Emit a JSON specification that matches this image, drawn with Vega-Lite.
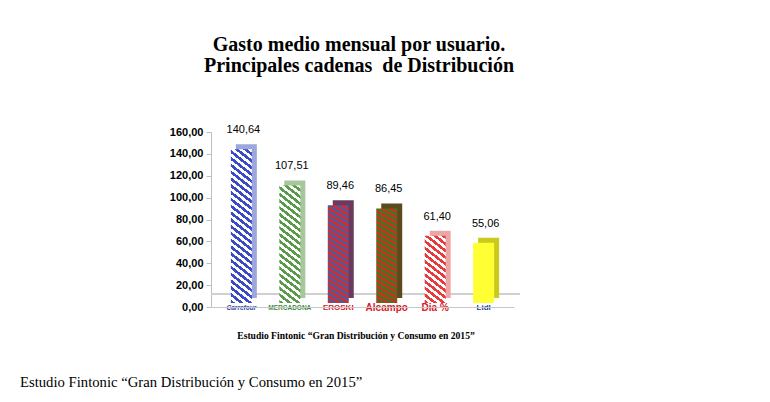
{
  "$schema": "https://vega.github.io/schema/vega-lite/v6.json",
  "autosize": {"type": "pad"},
  "padding": {"left": 20, "top": 35, "right": 5, "bottom": 5},
  "background": "white",
  "config": {
    "view": {"stroke": null},
    "locale": {"number": {"decimal": ",", "thousands": ".", "grouping": [3], "currency": ["", " €"]}},
    "axisY": {
      "title": null, "values": [0, 20, 40, 60, 80, 100, 120, 140, 160], "format": ".2f", "grid": false,
      "domainColor": "#bfbfbf", "tickColor": "#bfbfbf", "tickSize": 5,
      "labelFont": "Liberation Sans", "labelFontSize": 11, "labelFontWeight": "bold",
      "labelColor": "#000000", "labelPadding": 3
    }
  },
  "title": {
    "text": "Estudio Fintonic “Gran Distribución y Consumo en 2015”",
    "orient": "bottom", "anchor": "start", "frame": "group", "dx": -191, "offset": 35,
    "font": "Liberation Serif", "fontSize": 14.7, "fontWeight": "normal", "color": "#000000"
  },
  "vconcat": [
    {
      "width": 303,
      "height": 175,
      "title": {
        "text": ["Gasto medio mensual por usuario.", "Principales cadenas\u00a0 de Distribución"],
        "font": "Liberation Serif", "fontSize": 20, "fontWeight": "bold", "lineHeight": 21,
        "anchor": "middle", "frame": "group", "dx": -3.5, "offset": 48, "color": "#000000"
      },
      "data": {
        "values": [
          {"cadena": "Carrefour", "gasto": 140.64},
          {"cadena": "Mercadona", "gasto": 107.51},
          {"cadena": "Eroski", "gasto": 89.46},
          {"cadena": "Alcampo", "gasto": 86.45},
          {"cadena": "Dia", "gasto": 61.40},
          {"cadena": "Lidl", "gasto": 55.06}
        ]
      },
      "layer": [
        {
          "mark": {"type": "rule", "color": "#cfcfcf", "strokeWidth": 1.2, "xOffset": 6, "yOffset": -13},
          "encoding": {"y": {"datum": 0, "type": "quantitative", "scale": {"domain": [0, 160], "nice": false}, "axis": {"title": null, "values": [0, 20, 40, 60, 80, 100, 120, 140, 160], "format": ".2f"}}}
        },
        {
          "encoding": {
            "x": {
              "field": "cadena", "type": "nominal", "sort": null,
              "scale": {"paddingInner": 0.567, "paddingOuter": 0.41},
              "axis": {
                "title": "Estudio Fintonic “Gran Distribución y Consumo en 2015”",
                "titleFont": "Liberation Serif", "titleFontSize": 9.6, "titleFontWeight": "bold", "titleColor": "#000000",
                "titleX": 144.5, "titleY": 31, "titleAlign": "center", "titleBaseline": "alphabetic",
                "ticks": false, "domainColor": "#c8c8c8", "domainWidth": 1.2, "labelAngle": 0, "labelPadding": 0,
                "labelBaseline": "middle", "labelFont": "Liberation Sans", "labelFontWeight": "bold",
                "labelOverlap": false,
                "labelExpr": "datum.value === 'Mercadona' ? 'MERCADONA' : datum.value === 'Eroski' ? 'EROSKI' : datum.value === 'Dia' ? 'Dia %' : datum.value",
                "labelColor": {
                  "condition": [
                    {"test": "datum.value === 'Carrefour'", "value": "#2b3f9e"},
                    {"test": "datum.value === 'Mercadona'", "value": "#3f8a3a"},
                    {"test": "datum.value === 'Lidl'", "value": "#1f3f97"}
                  ],
                  "value": "#d42027"
                },
                "labelFontSize": {
                  "condition": [
                    {"test": "datum.value === 'Carrefour'", "value": 6.5},
                    {"test": "datum.value === 'Mercadona'", "value": 6.5},
                    {"test": "datum.value === 'Eroski'", "value": 8},
                    {"test": "datum.value === 'Lidl'", "value": 8}
                  ],
                  "value": 10
                },
                "labelFontStyle": {"condition": {"test": "datum.value === 'Carrefour'", "value": "italic"}, "value": "normal"}
              }
            },
            "y": {
              "field": "gasto", "type": "quantitative",
              "scale": {"domain": [0, 160], "nice": false},
              "axis": {"title": null, "values": [0, 20, 40, 60, 80, 100, 120, 140, 160], "format": ".2f"}
            }
          },
          "layer": [
            {
              "mark": {"type": "bar", "xOffset": 5, "yOffset": -9},
              "encoding": {
                "fill": {
                  "condition": [
                    {"test": "datum.cadena === 'Carrefour'", "value": "#9ea7dd"},
                    {"test": "datum.cadena === 'Mercadona'", "value": "#a6c69b"},
                    {"test": "datum.cadena === 'Eroski'", "value": "#6c3a5e"},
                    {"test": "datum.cadena === 'Alcampo'", "value": "#5a4a1c"},
                    {"test": "datum.cadena === 'Dia'", "value": "#eba6a6"}
                  ],
                  "value": "#c9c91e"
                }
              }
            },
            {
              "mark": {"type": "bar", "yOffset": -4},
              "encoding": {
                "fill": {
                  "condition": [
                    {"test": "datum.cadena === 'Carrefour'", "value": {"gradient": "linear", "x1": 0, "y1": 1, "x2": 0.117, "y2": -0.094, "stops": [
                      {"offset": 0, "color": "#3b4bc8"}, {"offset": 0.02, "color": "#3b4bc8"}, {"offset": 0.02, "color": "#ffffff"}, {"offset": 0.04, "color": "#ffffff"},
                      {"offset": 0.04, "color": "#3b4bc8"}, {"offset": 0.06, "color": "#3b4bc8"}, {"offset": 0.06, "color": "#ffffff"}, {"offset": 0.08, "color": "#ffffff"},
                      {"offset": 0.08, "color": "#3b4bc8"}, {"offset": 0.10, "color": "#3b4bc8"}, {"offset": 0.10, "color": "#ffffff"}, {"offset": 0.12, "color": "#ffffff"},
                      {"offset": 0.12, "color": "#3b4bc8"}, {"offset": 0.14, "color": "#3b4bc8"}, {"offset": 0.14, "color": "#ffffff"}, {"offset": 0.16, "color": "#ffffff"},
                      {"offset": 0.16, "color": "#3b4bc8"}, {"offset": 0.18, "color": "#3b4bc8"}, {"offset": 0.18, "color": "#ffffff"}, {"offset": 0.20, "color": "#ffffff"},
                      {"offset": 0.20, "color": "#3b4bc8"}, {"offset": 0.22, "color": "#3b4bc8"}, {"offset": 0.22, "color": "#ffffff"}, {"offset": 0.24, "color": "#ffffff"},
                      {"offset": 0.24, "color": "#3b4bc8"}, {"offset": 0.26, "color": "#3b4bc8"}, {"offset": 0.26, "color": "#ffffff"}, {"offset": 0.28, "color": "#ffffff"},
                      {"offset": 0.28, "color": "#3b4bc8"}, {"offset": 0.30, "color": "#3b4bc8"}, {"offset": 0.30, "color": "#ffffff"}, {"offset": 0.32, "color": "#ffffff"},
                      {"offset": 0.32, "color": "#3b4bc8"}, {"offset": 0.34, "color": "#3b4bc8"}, {"offset": 0.34, "color": "#ffffff"}, {"offset": 0.36, "color": "#ffffff"},
                      {"offset": 0.36, "color": "#3b4bc8"}, {"offset": 0.38, "color": "#3b4bc8"}, {"offset": 0.38, "color": "#ffffff"}, {"offset": 0.40, "color": "#ffffff"},
                      {"offset": 0.40, "color": "#3b4bc8"}, {"offset": 0.42, "color": "#3b4bc8"}, {"offset": 0.42, "color": "#ffffff"}, {"offset": 0.44, "color": "#ffffff"},
                      {"offset": 0.44, "color": "#3b4bc8"}, {"offset": 0.46, "color": "#3b4bc8"}, {"offset": 0.46, "color": "#ffffff"}, {"offset": 0.48, "color": "#ffffff"},
                      {"offset": 0.48, "color": "#3b4bc8"}, {"offset": 0.50, "color": "#3b4bc8"}, {"offset": 0.50, "color": "#ffffff"}, {"offset": 0.52, "color": "#ffffff"},
                      {"offset": 0.52, "color": "#3b4bc8"}, {"offset": 0.54, "color": "#3b4bc8"}, {"offset": 0.54, "color": "#ffffff"}, {"offset": 0.56, "color": "#ffffff"},
                      {"offset": 0.56, "color": "#3b4bc8"}, {"offset": 0.58, "color": "#3b4bc8"}, {"offset": 0.58, "color": "#ffffff"}, {"offset": 0.60, "color": "#ffffff"},
                      {"offset": 0.60, "color": "#3b4bc8"}, {"offset": 0.62, "color": "#3b4bc8"}, {"offset": 0.62, "color": "#ffffff"}, {"offset": 0.64, "color": "#ffffff"},
                      {"offset": 0.64, "color": "#3b4bc8"}, {"offset": 0.66, "color": "#3b4bc8"}, {"offset": 0.66, "color": "#ffffff"}, {"offset": 0.68, "color": "#ffffff"},
                      {"offset": 0.68, "color": "#3b4bc8"}, {"offset": 0.70, "color": "#3b4bc8"}, {"offset": 0.70, "color": "#ffffff"}, {"offset": 0.72, "color": "#ffffff"},
                      {"offset": 0.72, "color": "#3b4bc8"}, {"offset": 0.74, "color": "#3b4bc8"}, {"offset": 0.74, "color": "#ffffff"}, {"offset": 0.76, "color": "#ffffff"},
                      {"offset": 0.76, "color": "#3b4bc8"}, {"offset": 0.78, "color": "#3b4bc8"}, {"offset": 0.78, "color": "#ffffff"}, {"offset": 0.80, "color": "#ffffff"},
                      {"offset": 0.80, "color": "#3b4bc8"}, {"offset": 0.82, "color": "#3b4bc8"}, {"offset": 0.82, "color": "#ffffff"}, {"offset": 0.84, "color": "#ffffff"},
                      {"offset": 0.84, "color": "#3b4bc8"}, {"offset": 0.86, "color": "#3b4bc8"}, {"offset": 0.86, "color": "#ffffff"}, {"offset": 0.88, "color": "#ffffff"},
                      {"offset": 0.88, "color": "#3b4bc8"}, {"offset": 0.90, "color": "#3b4bc8"}, {"offset": 0.90, "color": "#ffffff"}, {"offset": 0.92, "color": "#ffffff"},
                      {"offset": 0.92, "color": "#3b4bc8"}, {"offset": 0.94, "color": "#3b4bc8"}, {"offset": 0.94, "color": "#ffffff"}, {"offset": 0.96, "color": "#ffffff"},
                      {"offset": 0.96, "color": "#3b4bc8"}, {"offset": 0.98, "color": "#3b4bc8"}, {"offset": 0.98, "color": "#ffffff"}, {"offset": 1, "color": "#ffffff"}
                    ]}},
                    {"test": "datum.cadena === 'Mercadona'", "value": {"gradient": "linear", "x1": 0, "y1": 1, "x2": 0.156, "y2": -0.118, "stops": [
                      {"offset": 0, "color": "#5a9a4a"}, {"offset": 0.025, "color": "#5a9a4a"}, {"offset": 0.025, "color": "#ffffff"}, {"offset": 0.05, "color": "#ffffff"},
                      {"offset": 0.05, "color": "#5a9a4a"}, {"offset": 0.075, "color": "#5a9a4a"}, {"offset": 0.075, "color": "#ffffff"}, {"offset": 0.1, "color": "#ffffff"},
                      {"offset": 0.1, "color": "#5a9a4a"}, {"offset": 0.125, "color": "#5a9a4a"}, {"offset": 0.125, "color": "#ffffff"}, {"offset": 0.15, "color": "#ffffff"},
                      {"offset": 0.15, "color": "#5a9a4a"}, {"offset": 0.175, "color": "#5a9a4a"}, {"offset": 0.175, "color": "#ffffff"}, {"offset": 0.2, "color": "#ffffff"},
                      {"offset": 0.2, "color": "#5a9a4a"}, {"offset": 0.225, "color": "#5a9a4a"}, {"offset": 0.225, "color": "#ffffff"}, {"offset": 0.25, "color": "#ffffff"},
                      {"offset": 0.25, "color": "#5a9a4a"}, {"offset": 0.275, "color": "#5a9a4a"}, {"offset": 0.275, "color": "#ffffff"}, {"offset": 0.3, "color": "#ffffff"},
                      {"offset": 0.3, "color": "#5a9a4a"}, {"offset": 0.325, "color": "#5a9a4a"}, {"offset": 0.325, "color": "#ffffff"}, {"offset": 0.35, "color": "#ffffff"},
                      {"offset": 0.35, "color": "#5a9a4a"}, {"offset": 0.375, "color": "#5a9a4a"}, {"offset": 0.375, "color": "#ffffff"}, {"offset": 0.4, "color": "#ffffff"},
                      {"offset": 0.4, "color": "#5a9a4a"}, {"offset": 0.425, "color": "#5a9a4a"}, {"offset": 0.425, "color": "#ffffff"}, {"offset": 0.45, "color": "#ffffff"},
                      {"offset": 0.45, "color": "#5a9a4a"}, {"offset": 0.475, "color": "#5a9a4a"}, {"offset": 0.475, "color": "#ffffff"}, {"offset": 0.5, "color": "#ffffff"},
                      {"offset": 0.5, "color": "#5a9a4a"}, {"offset": 0.525, "color": "#5a9a4a"}, {"offset": 0.525, "color": "#ffffff"}, {"offset": 0.55, "color": "#ffffff"},
                      {"offset": 0.55, "color": "#5a9a4a"}, {"offset": 0.575, "color": "#5a9a4a"}, {"offset": 0.575, "color": "#ffffff"}, {"offset": 0.6, "color": "#ffffff"},
                      {"offset": 0.6, "color": "#5a9a4a"}, {"offset": 0.625, "color": "#5a9a4a"}, {"offset": 0.625, "color": "#ffffff"}, {"offset": 0.65, "color": "#ffffff"},
                      {"offset": 0.65, "color": "#5a9a4a"}, {"offset": 0.675, "color": "#5a9a4a"}, {"offset": 0.675, "color": "#ffffff"}, {"offset": 0.7, "color": "#ffffff"},
                      {"offset": 0.7, "color": "#5a9a4a"}, {"offset": 0.725, "color": "#5a9a4a"}, {"offset": 0.725, "color": "#ffffff"}, {"offset": 0.75, "color": "#ffffff"},
                      {"offset": 0.75, "color": "#5a9a4a"}, {"offset": 0.775, "color": "#5a9a4a"}, {"offset": 0.775, "color": "#ffffff"}, {"offset": 0.8, "color": "#ffffff"},
                      {"offset": 0.8, "color": "#5a9a4a"}, {"offset": 0.825, "color": "#5a9a4a"}, {"offset": 0.825, "color": "#ffffff"}, {"offset": 0.85, "color": "#ffffff"},
                      {"offset": 0.85, "color": "#5a9a4a"}, {"offset": 0.875, "color": "#5a9a4a"}, {"offset": 0.875, "color": "#ffffff"}, {"offset": 0.9, "color": "#ffffff"},
                      {"offset": 0.9, "color": "#5a9a4a"}, {"offset": 0.925, "color": "#5a9a4a"}, {"offset": 0.925, "color": "#ffffff"}, {"offset": 0.95, "color": "#ffffff"},
                      {"offset": 0.95, "color": "#5a9a4a"}, {"offset": 0.975, "color": "#5a9a4a"}, {"offset": 0.975, "color": "#ffffff"}, {"offset": 1, "color": "#ffffff"}
                    ]}},
                    {"test": "datum.cadena === 'Eroski'", "value": {"gradient": "linear", "x1": 0, "y1": 1, "x2": 0.137, "y2": -0.107, "stops": [
                      {"offset": 0, "color": "#d52b2b"}, {"offset": 0.025, "color": "#d52b2b"}, {"offset": 0.025, "color": "#4e5a9f"}, {"offset": 0.05, "color": "#4e5a9f"},
                      {"offset": 0.05, "color": "#d52b2b"}, {"offset": 0.075, "color": "#d52b2b"}, {"offset": 0.075, "color": "#4e5a9f"}, {"offset": 0.1, "color": "#4e5a9f"},
                      {"offset": 0.1, "color": "#d52b2b"}, {"offset": 0.125, "color": "#d52b2b"}, {"offset": 0.125, "color": "#4e5a9f"}, {"offset": 0.15, "color": "#4e5a9f"},
                      {"offset": 0.15, "color": "#d52b2b"}, {"offset": 0.175, "color": "#d52b2b"}, {"offset": 0.175, "color": "#4e5a9f"}, {"offset": 0.2, "color": "#4e5a9f"},
                      {"offset": 0.2, "color": "#d52b2b"}, {"offset": 0.225, "color": "#d52b2b"}, {"offset": 0.225, "color": "#4e5a9f"}, {"offset": 0.25, "color": "#4e5a9f"},
                      {"offset": 0.25, "color": "#d52b2b"}, {"offset": 0.275, "color": "#d52b2b"}, {"offset": 0.275, "color": "#4e5a9f"}, {"offset": 0.3, "color": "#4e5a9f"},
                      {"offset": 0.3, "color": "#d52b2b"}, {"offset": 0.325, "color": "#d52b2b"}, {"offset": 0.325, "color": "#4e5a9f"}, {"offset": 0.35, "color": "#4e5a9f"},
                      {"offset": 0.35, "color": "#d52b2b"}, {"offset": 0.375, "color": "#d52b2b"}, {"offset": 0.375, "color": "#4e5a9f"}, {"offset": 0.4, "color": "#4e5a9f"},
                      {"offset": 0.4, "color": "#d52b2b"}, {"offset": 0.425, "color": "#d52b2b"}, {"offset": 0.425, "color": "#4e5a9f"}, {"offset": 0.45, "color": "#4e5a9f"},
                      {"offset": 0.45, "color": "#d52b2b"}, {"offset": 0.475, "color": "#d52b2b"}, {"offset": 0.475, "color": "#4e5a9f"}, {"offset": 0.5, "color": "#4e5a9f"},
                      {"offset": 0.5, "color": "#d52b2b"}, {"offset": 0.525, "color": "#d52b2b"}, {"offset": 0.525, "color": "#4e5a9f"}, {"offset": 0.55, "color": "#4e5a9f"},
                      {"offset": 0.55, "color": "#d52b2b"}, {"offset": 0.575, "color": "#d52b2b"}, {"offset": 0.575, "color": "#4e5a9f"}, {"offset": 0.6, "color": "#4e5a9f"},
                      {"offset": 0.6, "color": "#d52b2b"}, {"offset": 0.625, "color": "#d52b2b"}, {"offset": 0.625, "color": "#4e5a9f"}, {"offset": 0.65, "color": "#4e5a9f"},
                      {"offset": 0.65, "color": "#d52b2b"}, {"offset": 0.675, "color": "#d52b2b"}, {"offset": 0.675, "color": "#4e5a9f"}, {"offset": 0.7, "color": "#4e5a9f"},
                      {"offset": 0.7, "color": "#d52b2b"}, {"offset": 0.725, "color": "#d52b2b"}, {"offset": 0.725, "color": "#4e5a9f"}, {"offset": 0.75, "color": "#4e5a9f"},
                      {"offset": 0.75, "color": "#d52b2b"}, {"offset": 0.775, "color": "#d52b2b"}, {"offset": 0.775, "color": "#4e5a9f"}, {"offset": 0.8, "color": "#4e5a9f"},
                      {"offset": 0.8, "color": "#d52b2b"}, {"offset": 0.825, "color": "#d52b2b"}, {"offset": 0.825, "color": "#4e5a9f"}, {"offset": 0.85, "color": "#4e5a9f"},
                      {"offset": 0.85, "color": "#d52b2b"}, {"offset": 0.875, "color": "#d52b2b"}, {"offset": 0.875, "color": "#4e5a9f"}, {"offset": 0.9, "color": "#4e5a9f"},
                      {"offset": 0.9, "color": "#d52b2b"}, {"offset": 0.925, "color": "#d52b2b"}, {"offset": 0.925, "color": "#4e5a9f"}, {"offset": 0.95, "color": "#4e5a9f"},
                      {"offset": 0.95, "color": "#d52b2b"}, {"offset": 0.975, "color": "#d52b2b"}, {"offset": 0.975, "color": "#4e5a9f"}, {"offset": 1, "color": "#4e5a9f"}
                    ]}},
                    {"test": "datum.cadena === 'Alcampo'", "value": {"gradient": "linear", "x1": 0, "y1": 1, "x2": 0.142, "y2": -0.110, "stops": [
                      {"offset": 0, "color": "#cc2e22"}, {"offset": 0.025, "color": "#cc2e22"}, {"offset": 0.025, "color": "#3d7a1b"}, {"offset": 0.05, "color": "#3d7a1b"},
                      {"offset": 0.05, "color": "#cc2e22"}, {"offset": 0.075, "color": "#cc2e22"}, {"offset": 0.075, "color": "#3d7a1b"}, {"offset": 0.1, "color": "#3d7a1b"},
                      {"offset": 0.1, "color": "#cc2e22"}, {"offset": 0.125, "color": "#cc2e22"}, {"offset": 0.125, "color": "#3d7a1b"}, {"offset": 0.15, "color": "#3d7a1b"},
                      {"offset": 0.15, "color": "#cc2e22"}, {"offset": 0.175, "color": "#cc2e22"}, {"offset": 0.175, "color": "#3d7a1b"}, {"offset": 0.2, "color": "#3d7a1b"},
                      {"offset": 0.2, "color": "#cc2e22"}, {"offset": 0.225, "color": "#cc2e22"}, {"offset": 0.225, "color": "#3d7a1b"}, {"offset": 0.25, "color": "#3d7a1b"},
                      {"offset": 0.25, "color": "#cc2e22"}, {"offset": 0.275, "color": "#cc2e22"}, {"offset": 0.275, "color": "#3d7a1b"}, {"offset": 0.3, "color": "#3d7a1b"},
                      {"offset": 0.3, "color": "#cc2e22"}, {"offset": 0.325, "color": "#cc2e22"}, {"offset": 0.325, "color": "#3d7a1b"}, {"offset": 0.35, "color": "#3d7a1b"},
                      {"offset": 0.35, "color": "#cc2e22"}, {"offset": 0.375, "color": "#cc2e22"}, {"offset": 0.375, "color": "#3d7a1b"}, {"offset": 0.4, "color": "#3d7a1b"},
                      {"offset": 0.4, "color": "#cc2e22"}, {"offset": 0.425, "color": "#cc2e22"}, {"offset": 0.425, "color": "#3d7a1b"}, {"offset": 0.45, "color": "#3d7a1b"},
                      {"offset": 0.45, "color": "#cc2e22"}, {"offset": 0.475, "color": "#cc2e22"}, {"offset": 0.475, "color": "#3d7a1b"}, {"offset": 0.5, "color": "#3d7a1b"},
                      {"offset": 0.5, "color": "#cc2e22"}, {"offset": 0.525, "color": "#cc2e22"}, {"offset": 0.525, "color": "#3d7a1b"}, {"offset": 0.55, "color": "#3d7a1b"},
                      {"offset": 0.55, "color": "#cc2e22"}, {"offset": 0.575, "color": "#cc2e22"}, {"offset": 0.575, "color": "#3d7a1b"}, {"offset": 0.6, "color": "#3d7a1b"},
                      {"offset": 0.6, "color": "#cc2e22"}, {"offset": 0.625, "color": "#cc2e22"}, {"offset": 0.625, "color": "#3d7a1b"}, {"offset": 0.65, "color": "#3d7a1b"},
                      {"offset": 0.65, "color": "#cc2e22"}, {"offset": 0.675, "color": "#cc2e22"}, {"offset": 0.675, "color": "#3d7a1b"}, {"offset": 0.7, "color": "#3d7a1b"},
                      {"offset": 0.7, "color": "#cc2e22"}, {"offset": 0.725, "color": "#cc2e22"}, {"offset": 0.725, "color": "#3d7a1b"}, {"offset": 0.75, "color": "#3d7a1b"},
                      {"offset": 0.75, "color": "#cc2e22"}, {"offset": 0.775, "color": "#cc2e22"}, {"offset": 0.775, "color": "#3d7a1b"}, {"offset": 0.8, "color": "#3d7a1b"},
                      {"offset": 0.8, "color": "#cc2e22"}, {"offset": 0.825, "color": "#cc2e22"}, {"offset": 0.825, "color": "#3d7a1b"}, {"offset": 0.85, "color": "#3d7a1b"},
                      {"offset": 0.85, "color": "#cc2e22"}, {"offset": 0.875, "color": "#cc2e22"}, {"offset": 0.875, "color": "#3d7a1b"}, {"offset": 0.9, "color": "#3d7a1b"},
                      {"offset": 0.9, "color": "#cc2e22"}, {"offset": 0.925, "color": "#cc2e22"}, {"offset": 0.925, "color": "#3d7a1b"}, {"offset": 0.95, "color": "#3d7a1b"},
                      {"offset": 0.95, "color": "#cc2e22"}, {"offset": 0.975, "color": "#cc2e22"}, {"offset": 0.975, "color": "#3d7a1b"}, {"offset": 1, "color": "#3d7a1b"}
                    ]}},
                    {"test": "datum.cadena === 'Dia'", "value": {"gradient": "linear", "x1": 0, "y1": 1, "x2": 0.287, "y2": -0.174, "stops": [
                      {"offset": 0, "color": "#e8393d"}, {"offset": 0.04, "color": "#e8393d"}, {"offset": 0.04, "color": "#ffffff"}, {"offset": 0.08, "color": "#ffffff"},
                      {"offset": 0.08, "color": "#e8393d"}, {"offset": 0.12, "color": "#e8393d"}, {"offset": 0.12, "color": "#ffffff"}, {"offset": 0.16, "color": "#ffffff"},
                      {"offset": 0.16, "color": "#e8393d"}, {"offset": 0.2, "color": "#e8393d"}, {"offset": 0.2, "color": "#ffffff"}, {"offset": 0.24, "color": "#ffffff"},
                      {"offset": 0.24, "color": "#e8393d"}, {"offset": 0.28, "color": "#e8393d"}, {"offset": 0.28, "color": "#ffffff"}, {"offset": 0.32, "color": "#ffffff"},
                      {"offset": 0.32, "color": "#e8393d"}, {"offset": 0.36, "color": "#e8393d"}, {"offset": 0.36, "color": "#ffffff"}, {"offset": 0.4, "color": "#ffffff"},
                      {"offset": 0.4, "color": "#e8393d"}, {"offset": 0.44, "color": "#e8393d"}, {"offset": 0.44, "color": "#ffffff"}, {"offset": 0.48, "color": "#ffffff"},
                      {"offset": 0.48, "color": "#e8393d"}, {"offset": 0.52, "color": "#e8393d"}, {"offset": 0.52, "color": "#ffffff"}, {"offset": 0.56, "color": "#ffffff"},
                      {"offset": 0.56, "color": "#e8393d"}, {"offset": 0.6, "color": "#e8393d"}, {"offset": 0.6, "color": "#ffffff"}, {"offset": 0.64, "color": "#ffffff"},
                      {"offset": 0.64, "color": "#e8393d"}, {"offset": 0.68, "color": "#e8393d"}, {"offset": 0.68, "color": "#ffffff"}, {"offset": 0.72, "color": "#ffffff"},
                      {"offset": 0.72, "color": "#e8393d"}, {"offset": 0.76, "color": "#e8393d"}, {"offset": 0.76, "color": "#ffffff"}, {"offset": 0.8, "color": "#ffffff"},
                      {"offset": 0.8, "color": "#e8393d"}, {"offset": 0.84, "color": "#e8393d"}, {"offset": 0.84, "color": "#ffffff"}, {"offset": 0.88, "color": "#ffffff"},
                      {"offset": 0.88, "color": "#e8393d"}, {"offset": 0.92, "color": "#e8393d"}, {"offset": 0.92, "color": "#ffffff"}, {"offset": 0.96, "color": "#ffffff"},
                      {"offset": 0.96, "color": "#e8393d"}, {"offset": 1, "color": "#e8393d"}
                    ]}}
                  ],
                  "value": "#ffff33"
                }
              }
            },
            {
              "mark": {"type": "text", "font": "Liberation Sans", "fontSize": 11, "baseline": "alphabetic", "dy": -20, "dx": 2, "color": "#000000"},
              "encoding": {
                "text": {"field": "gasto", "type": "quantitative", "format": ".2f"}
              }
            }
          ]
        }
      ]
    }
  ]
}
